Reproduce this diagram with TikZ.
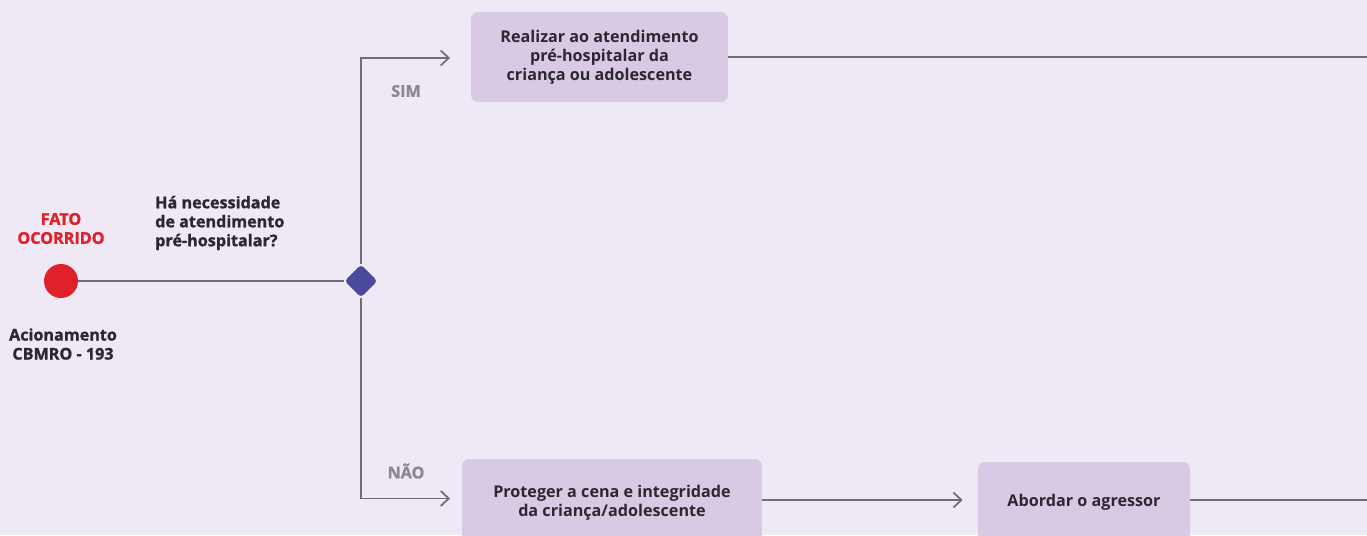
\documentclass[tikz,border=0pt]{standalone}
\usepackage{fontspec}
\setmainfont{Open Sans}
\newfontfamily\pesada{Open Sans}[BoldFeatures={FakeBold=1.2}]
\usetikzlibrary{arrows.meta,shapes.geometric,positioning}
\definecolor{fundo}{HTML}{EFE9F5}
\definecolor{caixa}{HTML}{D8C9E4}
\definecolor{linha}{HTML}{6E6E73}
\definecolor{losango}{HTML}{4C4A9E}
\definecolor{vermelho}{HTML}{E0202A}
\definecolor{texto}{HTML}{2B2930}
\tikzset{
  fonte/.style={font=\fontsize{9.2}{10.8}\selectfont\bfseries},
  forte/.style={font=\fontsize{9.2}{10.8}\selectfont\pesada\bfseries},
  etapa/.style={fonte, fill=caixa, rounded corners=4pt, align=center, text=texto, inner sep=0pt},
  rotulo/.style={forte, align=center, text=texto},
  resposta/.style={forte, text=linha!80},
  fluxo/.style={draw=linha, line width=1.1pt},
  seta/.style={fluxo, -{Straight Barb[length=1.6mm, width=3mm, line width=1pt]}},
}
\begin{document}
\begin{tikzpicture}[x=0.02cm, y=-0.02cm]
  \fill[fundo] (0,0) rectangle (1367,535);
  \clip (0,0) rectangle (1367,535);

  % inicio
  \node[circle, fill=vermelho, minimum size=0.68cm, inner sep=0pt] (fato) at (61,281) {};
  \node[forte, text=vermelho, align=center] (fatotxt) at (61,228.5) {FATO\\OCORRIDO};
  \node[rotulo] (acion) at (63,344) {Acionamento\\CBMRO - 193};

  % decisao
  \node[diamond, fill=losango, minimum width=0.66cm, minimum height=0.66cm, inner sep=0pt, rounded corners=2pt] (decisao) at (361,281) {};
  \node[rotulo, align=left, anchor=west] (pergunta) at (149,223) {Há necessidade\\de atendimento\\pré-hospitalar?};

  % caixas
  \node[etapa, minimum width=5.14cm, minimum height=1.8cm] (atend) at (599.5,57) {Realizar ao atendimento\\pré-hospitalar da\\criança ou adolescente};
  \node[etapa, minimum width=6cm, minimum height=1.74cm] (proteger) at (612,502.5) {Proteger a cena e integridade\\da criança/adolescente};
  \node[etapa, minimum width=4.24cm, minimum height=1.6cm] (abordar) at (1084,502) {Abordar o agressor};

  \coordinate (sim) at (450,58);
  \coordinate (nao) at (450,498.5);
  \coordinate (fimA) at (1370,57);
  \coordinate (fimB) at (1370,500);

  \node[resposta] (simtxt) at (406,91) {SIM};
  \node[resposta] (naotxt) at (406,471) {NÃO};

  % conectores
  \draw[fluxo] (fato) -- (decisao);
  \draw[seta] (decisao) |- (sim);
  \draw[seta] (decisao) |- (nao);
  \draw[fluxo] (atend.east) -- (fimA);
  \draw[seta] (proteger.east |- fimB) -- ([xshift=-0.3cm]abordar.west |- fimB);
  \draw[fluxo] (abordar.east |- fimB) -- (fimB);
\end{tikzpicture}
\end{document}
